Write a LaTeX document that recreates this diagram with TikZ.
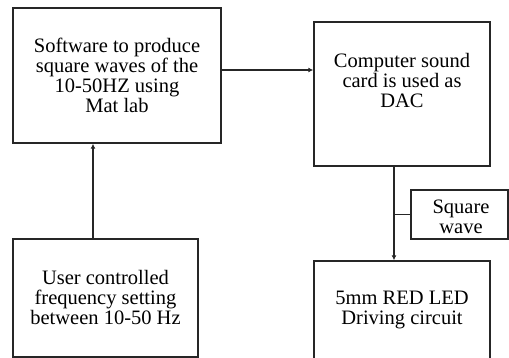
\documentclass[tikz,border=0pt]{standalone}
\usepackage{fontspec}
\setmainfont{Liberation Serif}
\usetikzlibrary{arrows.meta,calc}
\begin{document}
\begin{tikzpicture}[x=1pt,y=-1pt,
  box/.style={draw=black!85,line width=1.4pt,inner sep=0pt,rectangle},
  lbl/.style={align=center,inner sep=0pt,font=\fontsize{20.5}{20}\selectfont},
  arr/.style={draw=black!85,line width=1.3pt,-{Latex[length=5pt,width=5pt]}},
  ln/.style={draw=black!85,line width=1.3pt}]
\useasboundingbox (0,0) rectangle (509,358);
\clip (0,0) rectangle (509,358);
\fill[white] (0,0) rectangle (509,358);
\node[box,minimum width=208pt,minimum height=135pt] (b1) at (117,75.5) {};
\node[lbl] (t1) at (117,75.5) {Software to produce\\square waves of the\\10-50HZ using\\Mat lab};
\node[box,minimum width=176pt,minimum height=144pt] (b2) at (402,94) {};
\node[lbl] (t2) at (402,80) {Computer sound\\card is used as\\DAC};
\node[box,minimum width=185pt,minimum height=118pt] (b3) at (105.5,298) {};
\node[lbl] (t3) at (105.5,297) {User controlled\\frequency setting\\between 10-50 Hz};
\node[box,minimum width=176pt,minimum height=104pt] (b4) at (402,313) {};
\node[lbl] (t4) at (402,310) {5mm RED LED\\Driving circuit};
\node[box,minimum width=97pt,minimum height=49pt] (b5) at (459.5,214.5) {};
\node[lbl] (t5) at (461,217) {Square\\wave};
\draw[arr] ([yshift=5.5pt]b1.east) -- ([yshift=5.5pt]b1.east -| b2.west);
\draw[arr] ([xshift=-12.5pt]b3.north) -- ([xshift=-12.5pt]b3.north |- b1.south);
\draw[arr] ([xshift=-8pt]b2.south) -- ([xshift=-8pt]b2.south |- b4.north);
\coordinate (j) at ([xshift=-8pt]b2.south |- b5.west);
\draw[ln] (j) -- (b5.west);
\end{tikzpicture}
\end{document}
